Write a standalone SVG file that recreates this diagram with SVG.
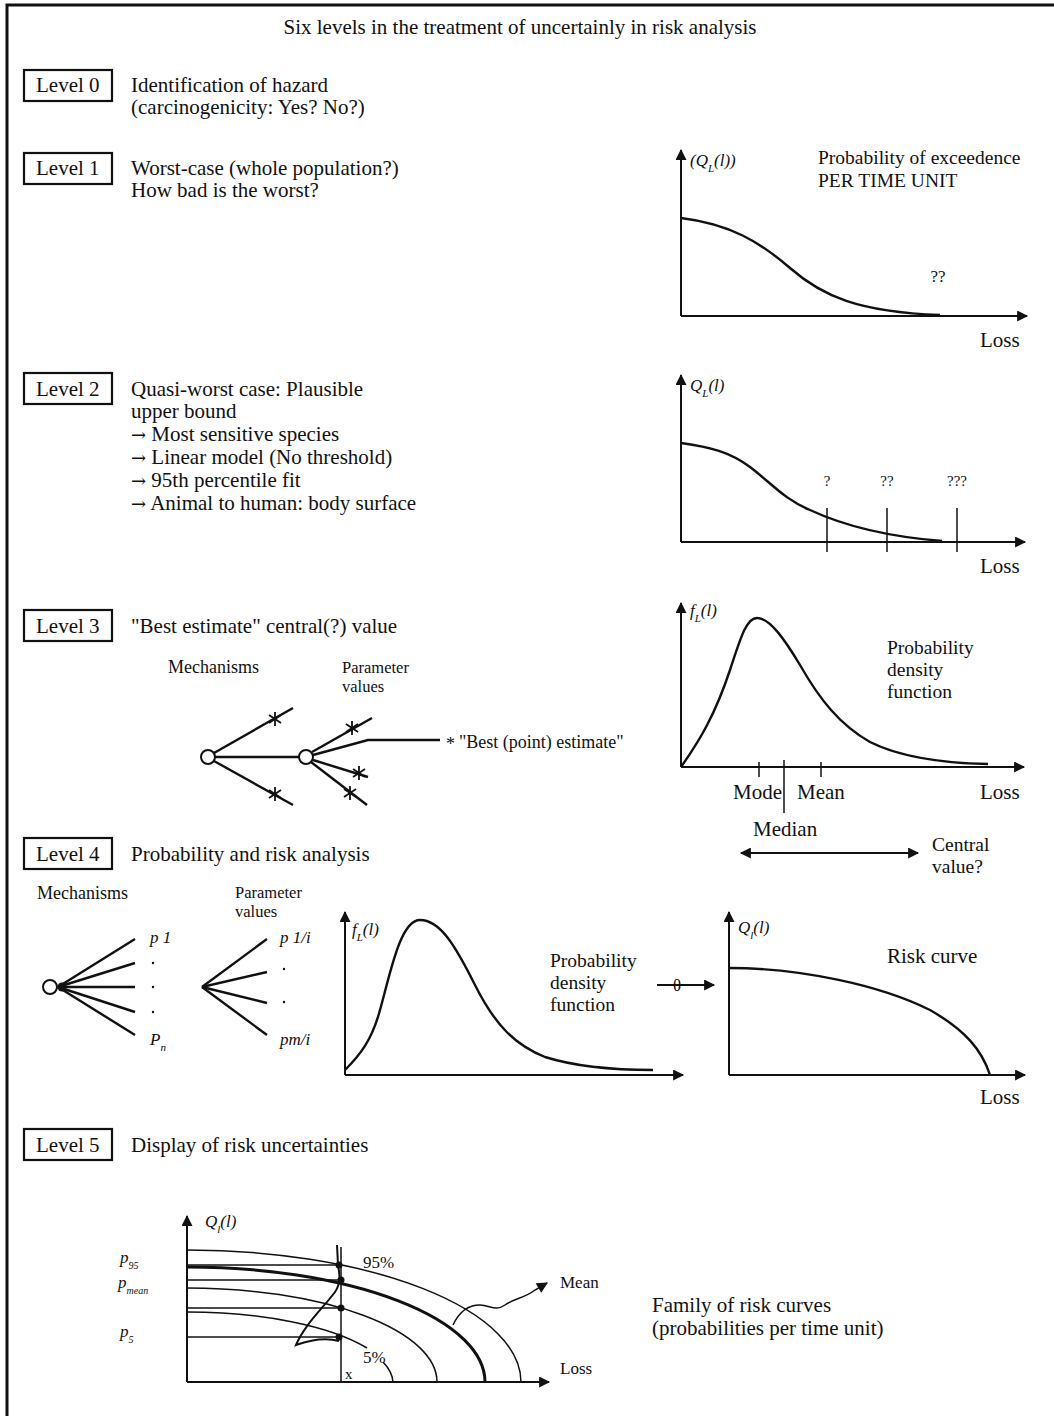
<svg xmlns="http://www.w3.org/2000/svg" width="1054" height="1416" viewBox="0 0 1054 1416">
<defs>
<marker id="ah" viewBox="0 0 10 10" refX="9" refY="5" markerWidth="15" markerHeight="11" markerUnits="userSpaceOnUse" orient="auto-start-reverse"><path d="M0,0 L10,5 L0,10 z" fill="#111"/></marker>
<g id="st"><line x1="0" y1="-7" x2="0" y2="7"/><line x1="-6" y1="-4" x2="6" y2="4"/><line x1="-6" y1="4" x2="6" y2="-4"/></g>
</defs>
<style>
text{font-family:"Liberation Serif","Times New Roman",serif;fill:#111}
.t{font-size:21px}
.ti{font-size:21px}
.p{font-size:19.5px}
.s{font-size:17px}
.m{font-size:18px}
.pv{font-size:16.5px}
.xs{font-size:15px}
.it{font-style:italic}
.ar{font-family:"DejaVu Serif",serif;font-size:18px}
.box{fill:#fff;stroke:#111;stroke-width:2.2}
.ax{stroke:#111;stroke-width:2;fill:none}
.cv{stroke:#111;stroke-width:2.4;fill:none}
.ln{stroke:#111;stroke-width:1.5;fill:none}
.tr{stroke:#111;stroke-width:2.4;fill:none}
.st{stroke:#111;stroke-width:1.8}
</style>
<rect width="1054" height="1416" fill="#fff"/>
<g id="frame"><path d="M7,1416 L7,5 L1054,5" fill="none" stroke="#111" stroke-width="3"/></g>
<text id="title" class="ti" x="520" y="34" text-anchor="middle">Six levels in the treatment of uncertainly in risk analysis</text>

<g id="level0">
<rect class="box" x="24" y="70" width="88" height="31"/>
<text class="t" x="36" y="92">Level 0</text>
<text class="t" x="131" y="92">Identification of hazard</text>
<text class="t" x="131" y="114">(carcinogenicity: Yes? No?)</text>
</g>

<g id="level1">
<rect class="box" x="24" y="153" width="88" height="31"/>
<text class="t" x="36" y="175">Level 1</text>
<text class="t" x="131" y="175">Worst-case (whole population?)</text>
<text class="t" x="131" y="197">How bad is the worst?</text>
<text class="p" x="818" y="164">Probability of exceedence</text>
<text class="p" x="818" y="187">PER TIME UNIT</text>
<text class="s it" x="690" y="166">(Q<tspan font-size="11" baseline-shift="sub">L</tspan>(l))</text>
<text class="s" x="938" y="282" text-anchor="middle">??</text>
<text class="t" x="980" y="347">Loss</text>
<path class="cv" d="M681,218 C730,224 760,242 790,268 C822,296 858,312 940,315"/>
</g>

<g id="level2">
<rect class="box" x="24" y="373" width="88" height="31"/>
<text class="t" x="36" y="396">Level 2</text>
<text class="t" x="131" y="396">Quasi-worst case: Plausible</text>
<text class="t" x="131" y="418">upper bound</text>
<text class="t" x="131" y="441"><tspan class="ar">→</tspan> Most sensitive species</text>
<text class="t" x="131" y="464"><tspan class="ar">→</tspan> Linear model (No threshold)</text>
<text class="t" x="131" y="487"><tspan class="ar">→</tspan> 95th percentile fit</text>
<text class="t" x="131" y="510"><tspan class="ar">→</tspan> Animal to human: body surface</text>
<text class="s it" x="690" y="391">Q<tspan font-size="11" baseline-shift="sub">L</tspan>(l)</text>
<path class="cv" d="M681,443 C710,447 730,452 750,467 C770,482 785,500 810,510 C840,524 880,536 942,541"/>
<g class="ln"><line x1="827" y1="508" x2="827" y2="552"/><line x1="887" y1="508" x2="887" y2="552"/><line x1="957" y1="508" x2="957" y2="552"/></g>
<text class="xs" x="827" y="486" text-anchor="middle">?</text>
<text class="xs" x="887" y="486" text-anchor="middle">??</text>
<text class="xs" x="957" y="486" text-anchor="middle">???</text>
<text class="t" x="980" y="573">Loss</text>
</g>

<g id="level3">
<rect class="box" x="24" y="610" width="88" height="31"/>
<text class="t" x="36" y="633">Level 3</text>
<text class="t" x="131" y="633">"Best estimate" central(?) value</text>
<text class="m" x="168" y="673">Mechanisms</text>
<text class="pv" x="342" y="673">Parameter</text>
<text class="pv" x="342" y="692">values</text>
<g class="tr">
<line x1="214" y1="753" x2="293" y2="708"/>
<line x1="215" y1="757" x2="299" y2="757"/>
<line x1="214" y1="761" x2="293" y2="805"/>
<line x1="312" y1="752" x2="372" y2="718"/>
<path d="M313,755 L368,740 L440,740"/>
<line x1="313" y1="760" x2="368" y2="777"/>
<line x1="311" y1="762" x2="367" y2="805"/>
</g>
<circle cx="208" cy="757" r="7" fill="#fff" stroke="#111" stroke-width="2"/>
<circle cx="306" cy="757" r="7" fill="#fff" stroke="#111" stroke-width="2"/>
<g class="st">
<use href="#st" x="275" y="719"/>
<use href="#st" x="275" y="794"/>
<use href="#st" x="352" y="728"/>
<use href="#st" x="359" y="773"/>
<use href="#st" x="350" y="793"/>
</g>
<text class="m" x="446" y="750">*</text>
<text class="m" x="459" y="748">"Best (point) estimate"</text>
<text class="s it" x="690" y="616">f<tspan font-size="11" baseline-shift="sub">L</tspan>(l)</text>
<path class="cv" d="M681,767 C700,740 715,715 730,670 C740,640 746,618 757,618 C770,618 785,640 800,665 C820,700 840,725 870,742 C900,757 940,763 988,764"/>
<g class="ln"><line x1="759" y1="762" x2="759" y2="777"/><line x1="784" y1="760" x2="784" y2="813"/><line x1="821" y1="762" x2="821" y2="777"/></g>
<text class="p" x="887" y="654">Probability</text>
<text class="p" x="887" y="676">density</text>
<text class="p" x="887" y="698">function</text>
<text class="t" x="733" y="799">Mode</text>
<text class="t" x="797" y="799">Mean</text>
<text class="t" x="980" y="799">Loss</text>
<text class="t" x="753" y="836">Median</text>
<text class="p" x="932" y="851">Central</text>
<text class="p" x="932" y="873">value?</text>
</g>

<g id="level4">
<rect class="box" x="24" y="838" width="88" height="31"/>
<text class="t" x="36" y="861">Level 4</text>
<text class="t" x="131" y="861">Probability and risk analysis</text>
<text class="m" x="37" y="899">Mechanisms</text>
<text class="pv" x="235" y="898">Parameter</text>
<text class="pv" x="235" y="917">values</text>
<g class="tr">
<line x1="58" y1="987" x2="135" y2="939"/>
<line x1="58" y1="987" x2="135" y2="963"/>
<line x1="58" y1="987" x2="135" y2="987"/>
<line x1="58" y1="987" x2="135" y2="1012"/>
<line x1="58" y1="987" x2="135" y2="1035"/>
<line x1="202" y1="987" x2="267" y2="939"/>
<line x1="202" y1="987" x2="267" y2="972"/>
<line x1="202" y1="987" x2="267" y2="1003"/>
<line x1="202" y1="987" x2="267" y2="1035"/>
</g>
<circle cx="62" cy="987" r="4.5" fill="#111"/>
<circle cx="50" cy="987" r="7" fill="#fff" stroke="#111" stroke-width="2"/>
<g fill="#111"><circle cx="153" cy="963" r="1.2"/><circle cx="153" cy="987" r="1.2"/><circle cx="153" cy="1012" r="1.2"/><circle cx="284" cy="969" r="1.2"/><circle cx="284" cy="1002" r="1.2"/></g>
<text class="s it" x="150" y="943">p 1</text>
<text class="s it" x="150" y="1045">P<tspan font-size="11" baseline-shift="sub">n</tspan></text>
<text class="s it" x="280" y="943">p 1/i</text>
<text class="s it" x="280" y="1045">pm/i</text>
<text class="s it" x="352" y="935">f<tspan font-size="11" baseline-shift="sub">L</tspan>(l)</text>
<path class="cv" d="M345,1070 C360,1055 372,1040 380,1010 C390,975 400,920 420,920 C440,920 455,945 475,985 C495,1025 515,1045 545,1057 C580,1068 620,1070 653,1070"/>
<text class="p" x="550" y="967">Probability</text>
<text class="p" x="550" y="989">density</text>
<text class="p" x="550" y="1011">function</text>
<text class="s" x="677" y="991" text-anchor="middle">θ</text>
<text class="s it" x="738" y="933">Q<tspan font-size="11" baseline-shift="sub">l</tspan>(l)</text>
<text class="t" x="887" y="963">Risk curve</text>
<path class="cv" d="M729,968 C800,968 880,985 930,1010 C965,1030 982,1050 990,1075"/>
<text class="t" x="980" y="1104">Loss</text>
</g>

<g id="level5">
<rect class="box" x="24" y="1129" width="88" height="31"/>
<text class="t" x="36" y="1152">Level 5</text>
<text class="t" x="131" y="1152">Display of risk uncertainties</text>
<text class="s it" x="205" y="1227">Q<tspan font-size="11" baseline-shift="sub">l</tspan>(l)</text>
<text class="s it" x="120" y="1263">p<tspan font-size="10" baseline-shift="sub">95</tspan></text>
<text class="s it" x="118" y="1288">p<tspan font-size="10" baseline-shift="sub">mean</tspan></text>
<text class="s it" x="120" y="1337">p<tspan font-size="10" baseline-shift="sub">5</tspan></text>
<g class="ln">
<line x1="187" y1="1265" x2="341" y2="1265"/>
<line x1="187" y1="1280" x2="341" y2="1280"/>
<line x1="187" y1="1308" x2="341" y2="1308"/>
<line x1="187" y1="1337" x2="341" y2="1337"/>
<line x1="341" y1="1247" x2="341" y2="1382"/>
<path d="M187,1250 A334,132 0 0 1 521,1382"/>
<path d="M187,1288 A250,94 0 0 1 437,1382"/>
<path d="M187,1312 A206,70 0 0 1 367,1348"/>
<path d="M383,1362 A206,70 0 0 1 393,1382"/>
<path d="M337,1245 L338,1265 C340,1276 341,1283 335,1292 C324,1307 305,1324 296,1345 C310,1340 325,1337 339,1341" stroke-width="2"/>
</g>
<path d="M187,1267 A298,115 0 0 1 485,1382" fill="none" stroke="#111" stroke-width="3"/>
<g fill="#111"><circle cx="339" cy="1265" r="3.5"/><circle cx="341" cy="1280" r="3.5"/><circle cx="341" cy="1308" r="3.5"/><circle cx="339" cy="1337" r="3.5"/></g>
<text class="s" x="363" y="1268">95%</text>
<text class="s" x="363" y="1363">5%</text>
<text class="xs" x="345" y="1379">x</text>
<text class="s" x="560" y="1288">Mean</text>
<text class="s" x="560" y="1374">Loss</text>
<text class="t" x="652" y="1312">Family of risk curves</text>
<text class="t" x="652" y="1335">(probabilities per time unit)</text>
</g>

<g id="connectors">
<line class="ax" x1="681" y1="316" x2="681" y2="150" marker-end="url(#ah)"/>
<line class="ax" x1="681" y1="316" x2="1027" y2="316" marker-end="url(#ah)"/>
<line class="ax" x1="681" y1="542" x2="681" y2="375" marker-end="url(#ah)"/>
<line class="ax" x1="681" y1="542" x2="1025" y2="542" marker-end="url(#ah)"/>
<line class="ax" x1="681" y1="767" x2="681" y2="603" marker-end="url(#ah)"/>
<line class="ax" x1="681" y1="767" x2="1024" y2="767" marker-end="url(#ah)"/>
<line class="ax" x1="741" y1="853" x2="918" y2="853" marker-start="url(#ah)" marker-end="url(#ah)"/>
<line class="ax" x1="345" y1="1075" x2="345" y2="912" marker-end="url(#ah)"/>
<line class="ax" x1="345" y1="1075" x2="683" y2="1075" marker-end="url(#ah)"/>
<line class="ax" x1="657" y1="985" x2="714" y2="985" marker-end="url(#ah)"/>
<line class="ax" x1="729" y1="1075" x2="729" y2="912" marker-end="url(#ah)"/>
<line class="ax" x1="729" y1="1075" x2="1025" y2="1075" marker-end="url(#ah)"/>
<line class="ax" x1="187" y1="1382" x2="187" y2="1216" marker-end="url(#ah)"/>
<line class="ax" x1="187" y1="1382" x2="549" y2="1382" marker-end="url(#ah)"/>
<path class="ln" d="M453,1325 C460,1310 470,1305 480,1305 C490,1305 495,1312 505,1305 C515,1298 525,1298 535,1290 L547,1283" stroke-width="1.8" marker-end="url(#ah)"/>
</g>
</svg>
